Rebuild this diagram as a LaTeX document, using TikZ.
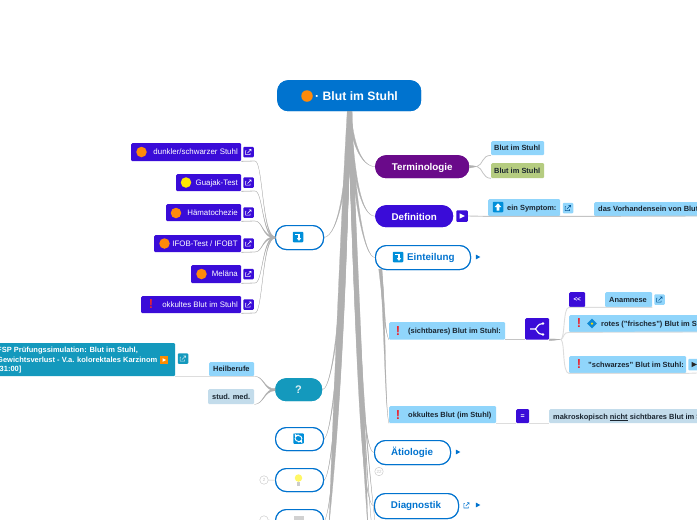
\documentclass[tikz,border=0pt]{standalone}
\usepackage{fontspec}
\setmainfont{Liberation Sans}
\usetikzlibrary{calc}
\definecolor{rootblue}{HTML}{0073CF}
\definecolor{violetblue}{HTML}{3A0CD8}
\definecolor{purp}{HTML}{6A0A8A}
\definecolor{tealq}{HTML}{1499BD}
\definecolor{skyb}{HTML}{90D5FB}
\definecolor{paleb}{HTML}{C3DCEB}
\definecolor{oliveg}{HTML}{B5CC80}
\definecolor{trunkg}{HTML}{B0B0B0}
\definecolor{lineg}{HTML}{C4C4C4}
\definecolor{palel}{HTML}{DDDDDD}
\definecolor{darkt}{HTML}{1A2530}
\definecolor{orangeb}{HTML}{FF8A0A}
\definecolor{warnred}{HTML}{EA2430}
\tikzset{
  x=1pt,y=-1pt,
  pill/.style={rounded corners=11pt,inner sep=0pt,anchor=north west},
  flat/.style={rounded corners=1.2pt,inner sep=0pt,anchor=north west},
  rootpill/.style={pill,fill=rootblue},
  purppill/.style={pill,fill=purp},
  violpill/.style={pill,fill=violetblue},
  tealpill/.style={pill,fill=tealq},
  outpill/.style={pill,draw=rootblue,line width=1.1pt,fill=white},
  violbox/.style={flat,fill=violetblue},
  skybox/.style={flat,fill=skyb},
  palebox/.style={flat,fill=paleb},
  olivebox/.style={flat,fill=oliveg},
  tealbox/.style={flat,fill=tealq},
  lblw/.style={anchor=mid west,inner sep=0pt,text=white,font=\fontsize{7.9}{9}\selectfont},
  lbld/.style={anchor=mid west,inner sep=0pt,text=darkt,font=\bfseries\fontsize{7.45}{9}\selectfont},
  lbltitle/.style={anchor=mid,yshift=-1.3pt,inner sep=0pt,text=white,font=\bfseries\fontsize{9.8}{12}\selectfont},
  lblblue/.style={anchor=mid,yshift=-1.3pt,inner sep=0pt,text=rootblue,font=\bfseries\fontsize{9.8}{12}\selectfont},
  ball/.style={circle,inner sep=0pt,minimum size=#1},
  thinlink/.style={draw=palel,line width=.9pt},
  greylink/.style={draw=lineg,line width=.8pt},
  taperfill/.style={fill=trunkg,draw=trunkg,line width=.25pt},
  counter/.style={circle,draw=lineg,line width=.4pt,fill=white,inner sep=0pt,minimum size=8.5pt,text=lineg,font=\fontsize{4.5}{5}\selectfont},
  warn/.style={anchor=center,inner sep=0pt,text=warnred,font=\bfseries\fontsize{13}{14}\selectfont},
}
\newcommand\shapebox[6]{\node[#6,minimum width={#4-(#2)},minimum height={#5-(#3)}] (#1) at (#2,#3) {};}
% tapered connector, width offset in x at the thick end
\newcommand\taperv[5]{\path[taperfill] ($(#1)+(-#5,0)$) .. controls ($(#2)+(-#5,0)$) and (#3) .. (#4) .. controls (#3) and ($(#2)+(#5,0)$) .. ($(#1)+(#5,0)$) -- cycle;}
% tapered connector, width offset in y at the thick end
\newcommand\taperh[5]{\path[taperfill] ($(#1)+(0,-#5)$) .. controls ($(#2)+(0,-#5)$) and (#3) .. (#4) .. controls (#3) and ($(#2)+(0,#5)$) .. ($(#1)+(0,#5)$) -- cycle;}
\newcommand\extlink[5]{% name cx cy fill stroke
  \node[rounded corners=1pt,fill=#4,minimum size=10.5pt,inner sep=0pt] (#1) at (#2,#3) {};
  \draw[#5,line width=.55pt] (#2-2.2,#3-1.4) -- (#2-2.8,#3-1.4) -- (#2-2.8,#3+2.6) -- (#2+1.6,#3+2.6) -- (#2+1.6,#3+1) (#2-1,#3+1) -- (#2+2.6,#3-2.6) (#2+.4,#3-2.6) -- (#2+2.6,#3-2.6) -- (#2+2.6,#3-.6);
}
\newcommand\playbtn[6]{% name cx cy size fill tri
  \node[rounded corners=1pt,fill=#5,minimum size=#4,inner sep=0pt] (#1) at (#2,#3) {};
  \fill[#6] (#2-2.4,#3-2.6) -- (#2+2.8,#3) -- (#2-2.4,#3+2.6) -- cycle;
}
\newcommand\tri[2]{\fill[rootblue] (#1-2.2,#2-2.4) -- (#1+2.4,#2) -- (#1-2.2,#2+2.4) -- cycle;}
\newcommand\bent[3]{% name cx cy : blue tile with bent arrow
  \node[rounded corners=.8pt,fill=rootblue!80!cyan,minimum size=10.5pt,inner sep=0pt] (#1) at (#2,#3) {};
  \draw[white,line width=1.1pt] (#2-2.6,#3-2.6) -- (#2+1,#3-2.6) -- (#2+1,#3+2);
  \fill[white] (#2-1.2,#3+1.2) -- (#2+3.2,#3+1.2) -- (#2+1,#3+3.8) -- cycle;
}
\newcommand\orangeball[3]{\node[ball=#3,fill=orangeb] (#1) at (#2) {};}
\newcommand\lchild[5]{% name x1 y1 y2 label
  \pgfmathsetmacro\midy{(#3+#4)/2}
  \shapebox{#1}{#2}{#3}{241}{#4}{violbox}
  \node[lblw,anchor=mid east] (#1t) at (238,\midy) {#5};
  \extlink{#1e}{248.5}{\midy}{violetblue}{white}
  \coordinate (#1j) at (255,#4);
  \draw[greylink] (#1.south east) -- (#1j);
  \taperh{lefta.west}{262,237}{263,#4}{#1j}{.9}
}
\begin{document}
\begin{tikzpicture}
\useasboundingbox (0,0) rectangle (697,520);
\clip (0,0) rectangle (697,520);
\fill[white] (0,0) rectangle (697,520);
% nodes with connectors behind
\shapebox{root}{277}{80}{421}{111}{rootpill}
\shapebox{term}{375}{155}{469}{178}{purppill}
\shapebox{defi}{375}{205}{453}{227}{violpill}
\shapebox{eint}{375}{245}{470}{269}{outpill}
\shapebox{aeti}{374}{440}{450}{464}{outpill}
\shapebox{diag}{374}{493}{458}{518}{outpill}
\shapebox{lefta}{275}{225}{323}{249}{outpill}
\shapebox{quest}{275}{378}{322}{401}{tealpill}
\shapebox{refr}{275}{427}{323}{450}{outpill}
\shapebox{bulb}{275}{468}{323}{491}{outpill}
\shapebox{tabl}{275}{509}{323}{532}{outpill}
\coordinate (offL) at (329,525);
\coordinate (offR1) at (368,530);
\coordinate (offR2) at (372,530);
\coordinate (offR3) at (376,530);
\coordinate (eintA) at ($(eint.south west)+(5,-1)$);
\coordinate (eintB) at ($(eint.south west)+(6,-1)$);
% trunk bands running on to branches outside the picture
\path[taperfill] ($(root.south)+(-2,0)$) .. controls (342,200) and (335,360) .. (offL) .. controls (344,380) and (349,200) .. ($(root.south)+(.5,0)$) -- cycle;
\path[taperfill] ($(root.south)+(1,0)$) .. controls (349,200) and (356,360) .. (offR1) .. controls (364,380) and (354,200) .. ($(root.south)+(3,0)$) -- cycle;
\taperv{root.south}{348,180}{339,235}{lefta.east}{1.3}
\taperv{root.south}{346,270}{335,388}{quest.east}{1.6}
\taperv{root.south}{345,300}{334,432}{refr.east}{1.6}
\taperv{root.south}{344,320}{334,474}{bulb.east}{1.6}
\taperv{root.south}{344,330}{334,512}{tabl.east}{1.6}
\taperv{root.south}{352,140}{360,166}{term.west}{1.5}
\taperv{root.south}{353,175}{361,216}{defi.west}{1.5}
\taperv{root.south}{354,200}{364,257}{eint.west}{1.5}
\taperv{root.south}{358,330}{362,452}{aeti.west}{1.8}
\taperv{root.south}{358,340}{360,505}{diag.west}{1.8}
\taperv{root.south}{357,300}{363,430}{offR2}{2}
\taperv{root.south}{356,300}{364,430}{offR3}{1.6}
% re-draw nodes above the trunk
\shapebox{root}{277}{80}{421}{111}{rootpill}
\shapebox{term}{375}{155}{469}{178}{purppill}
\shapebox{defi}{375}{205}{453}{227}{violpill}
\shapebox{eint}{375}{245}{470}{269}{outpill}
\shapebox{aeti}{374}{440}{450}{464}{outpill}
\shapebox{diag}{374}{493}{458}{518}{outpill}
\shapebox{lefta}{275}{225}{323}{249}{outpill}
\shapebox{quest}{275}{378}{322}{401}{tealpill}
\shapebox{refr}{275}{427}{323}{450}{outpill}
\shapebox{bulb}{275}{468}{323}{491}{outpill}
\shapebox{tabl}{275}{509}{323}{532}{outpill}
% root text
\orangeball{rootball}{307,96}{11.5pt}
\node[inner sep=0pt,anchor=mid west,yshift=-1.5pt,text=white,font=\bfseries\fontsize{12.2}{14}\selectfont] (roott) at (315,96) {· Blut im Stuhl};
% Terminologie
\node[lbltitle] (termt) at (term.center) {Terminologie};
\shapebox{tb1}{491}{141}{544}{155}{skybox}
\node[lbld] (tb1t) at (494,148) {Blut im Stuhl};
\shapebox{tb2}{491}{163}{544}{178}{olivebox}
\node[lbld] (tb2t) at (494,171) {Blut im Stuhl};
\coordinate (termj) at (477,166.5);
\taperh{term.east}{472,166.5}{475,166.5}{termj}{1.4}
\draw[greylink] (termj) .. controls (483,165) and (482,155) .. (tb1.south west);
\draw[greylink] (termj) .. controls (483,168) and (482,178) .. (tb2.south west);
% Definition
\node[lbltitle] (defit) at (defi.center) {Definition};
\shapebox{sym}{488}{199}{560}{216}{skybox}
\shapebox{vorh}{594}{202}{710}{216}{skybox}
\draw[lineg,line width=.9pt] (468,216) -- (sym.south west) -- (sym.south east) -- (vorh.south west) -- (697,216);
\playbtn{defp}{462}{216}{11.5pt}{violetblue}{white}
\node[rounded corners=.8pt,fill=rootblue!80!cyan,minimum size=10.5pt,inner sep=0pt] (symi) at (498,207) {};
\fill[white] (494.6,207) -- (498,203.4) -- (501.4,207) -- (499.3,207) -- (499.3,210.6) -- (496.7,210.6) -- (496.7,207) -- cycle;
\node[lbld] (symt) at (507,208) {ein Symptom:};
\extlink{syme}{568}{208}{skyb}{rootblue!70!black}
\node[lbld] (vorht) at (598,209) {das Vorhandensein von Blut};
% Einteilung
\bent{einti}{398}{257}
\node[lblblue,anchor=mid west] (eintt) at (407,257) {Einteilung};
\tri{478}{257}
% sichtbar
\shapebox{sich}{389}{322}{505}{339.5}{skybox}
\node[warn] (sichw) at (398,331) {!};
\node[lbld] (sicht) at (408,331) {(sichtbares) Blut im Stuhl:};
\shapebox{okk}{389}{406}{496}{423}{skybox}
\node[warn] (okkw) at (398,415) {!};
\node[lbld] (okkt) at (408,415) {okkultes Blut (im Stuhl)};
\taperv{eintA}{384,300}{384,330}{sich.south west}{1.3}
\taperv{eintB}{385,320}{385,410}{okk.south west}{1}
% big fork icon
\shapebox{fork}{525}{318}{549}{339.5}{violbox}
\draw[white,line width=1.2pt] (530,329) -- (535,329) .. controls (537,329) and (537,323.5) .. (543,323.5) (535,329) .. controls (537,329) and (537,334.5) .. (543,334.5);
\fill[white] (543,323.5) circle (1.4) (543,334.5) circle (1.4);
\draw[lineg,line width=.9pt] (sich.south east) -- (fork.south west);
\coordinate (forkj) at (561,339.5);
\taperh{fork.south east}{555,339.5}{558,339.5}{forkj}{.9}
\shapebox{back}{569}{292}{585}{307}{violbox}
\node[inner sep=0pt,text=white,font=\bfseries\fontsize{6.5}{7}\selectfont] (backt) at (back.center) {<\kern-.3pt<};
\shapebox{anam}{605}{292}{652}{307}{skybox}
\node[lbld,text=darkt] (anamt) at (609,300) {Anamnese};
\extlink{aname}{659.5}{299.5}{skyb}{rootblue!70!black}
\shapebox{rot}{569}{315}{710}{332}{skybox}
\node[warn] (rotw) at (579,323) {!};
\node[rotate=45,fill=cyan!70!blue,minimum size=7pt,inner sep=0pt] (rotd) at (592,323.5) {};
\node[circle,fill=yellow!80!orange,minimum size=2.5pt,inner sep=0pt] (rotc) at (592,323.5) {};
\node[lbld] (rott) at (601,324) {rotes ("frisches") Blut im Stuhl};
\shapebox{schw}{569}{356}{686}{373}{skybox}
\node[warn] (schww) at (579,364) {!};
\node[lbld] (schwt) at (588,365) {"schwarzes" Blut im Stuhl:};
\playbtn{schwp}{694}{364.5}{11.5pt}{skyb}{black!85}
\draw[thinlink] (forkj) .. controls (565,338) and (563,307) .. (back.south west) -- (back.south east) -- (anam.south west) -- (anam.south east);
\draw[thinlink] (forkj) .. controls (564,338) and (563,332) .. (rot.south west) -- (697,332);
\draw[thinlink] (forkj) .. controls (565,342) and (562,373) .. (schw.south west) -- (schw.south east) -- (697,373);
% okkult
\shapebox{gleich}{516}{409}{529}{423}{violbox}
\node[inner sep=0pt,text=white,font=\bfseries\fontsize{7}{8}\selectfont] (gleicht) at (gleich.center) {=};
\shapebox{makro}{549}{409}{710}{423}{palebox}
\node[lbld] (makrot) at (553,416.5) {makroskopisch \underline{nicht} sichtbares Blut im Stuhl};
\draw[thinlink] (okk.south east) -- (gleich.south west) (gleich.south east) -- (makro.south west);
% Aetiologie
\node[lblblue] (aetit) at (412,452) {Ätiologie};
\tri{458}{452}
\node[counter] (aetic) at (379,471.5) {22};
% Diagnostik
\node[lblblue] (diagt) at (416,505) {Diagnostik};
\tri{478}{505}
\draw[rootblue,line width=.55pt] (464.8,503.4) -- (463.8,503.4) -- (463.8,508) -- (468.4,508) -- (468.4,506.6) (465.8,506) -- (469.2,502.6) (467.2,502.6) -- (469.2,502.6) -- (469.2,504.6);
% left subtree
\bent{leftai}{298}{237}
\lchild{ca}{131}{143}{161}{dunkler/schwarzer Stuhl}
\lchild{cb}{176}{174}{191}{Guajak-Test}
\lchild{cc}{166}{204}{221}{Hämatochezie}
\lchild{cd}{154}{235}{252}{IFOB-Test / IFOBT}
\lchild{ce}{191}{265}{283}{Meläna}
\lchild{cf}{141}{296}{313}{okkultes Blut im Stuhl}
\orangeball{caball}{141.5,152}{10.5pt}
\node[ball=10.5pt,fill=yellow!90!orange] (cbball) at (186,182.5) {};
\orangeball{ccball}{176,213}{10.5pt}
\orangeball{cdball}{164.5,243.5}{10.5pt}
\orangeball{ceball}{201.5,274}{10.5pt}
\node[warn] (cfw) at (151,304.5) {!};
% question subtree
\node[inner sep=0pt,anchor=center,text=white!85!tealq,font=\bfseries\fontsize{11}{12}\selectfont] (questt) at (298.5,390) {?};
\shapebox{heil}{209}{362}{254}{376}{skybox}
\node[lbld] (heilt) at (213,369) {Heilberufe};
\shapebox{stud}{208}{389}{254}{404}{palebox}
\node[lbld] (studt) at (212,397) {stud. med.};
\taperh{quest.west}{264,390}{264,376}{heil.south east}{1}
\taperh{quest.west}{264,390}{264,404}{stud.south east}{1}
\shapebox{fsp}{-5}{343}{175}{376}{tealbox}
\node[anchor=north west,inner sep=0pt,text=white,align=left,font=\bfseries\fontsize{7.5}{9.5}\selectfont] (fspt) at (-3,347) {FSP Prüfungssimulation: Blut im Stuhl,\\Gewichtsverlust - V.a. kolorektales Karzinom\\{[31:00]}};
\node[fill=orange!90!yellow,minimum size=7.5pt,inner sep=0pt] (fspo) at (164,360) {};
\fill[white] (162.6,358.2) -- (166,360) -- (162.6,361.8) -- cycle;
\extlink{fspe}{183}{358.5}{tealq}{white!75!tealq}
\draw[thinlink] (fsp.south east) -- (heil.south west) -- (heil.south east);
% refresh
\node[rounded corners=.8pt,fill=rootblue!80!cyan,minimum size=10.5pt,inner sep=0pt] (refri) at (298.5,438.5) {};
\draw[white,line width=.9pt,->,>=stealth] (295,438) arc (180:20:3.5);
\draw[white,line width=.9pt,->,>=stealth] (302,439) arc (0:-160:3.5);
% bulb
\node[ball=7.5pt,fill=yellow!60] (bulbi) at (298.5,478) {};
\fill[black!20] (297,482) rectangle (300,485.5);
\node[counter] (bulbc) at (264,480) {2};
\draw[lineg,line width=.5pt] (bulbc.east) -- (bulb.west);
% table
\fill[black!18] (293.5,516) rectangle (303.5,520);
\node[counter] (tablc) at (264,520) {};
\draw[lineg,line width=.5pt] (tablc.east) -- (tabl.west);
\end{tikzpicture}
\end{document}
